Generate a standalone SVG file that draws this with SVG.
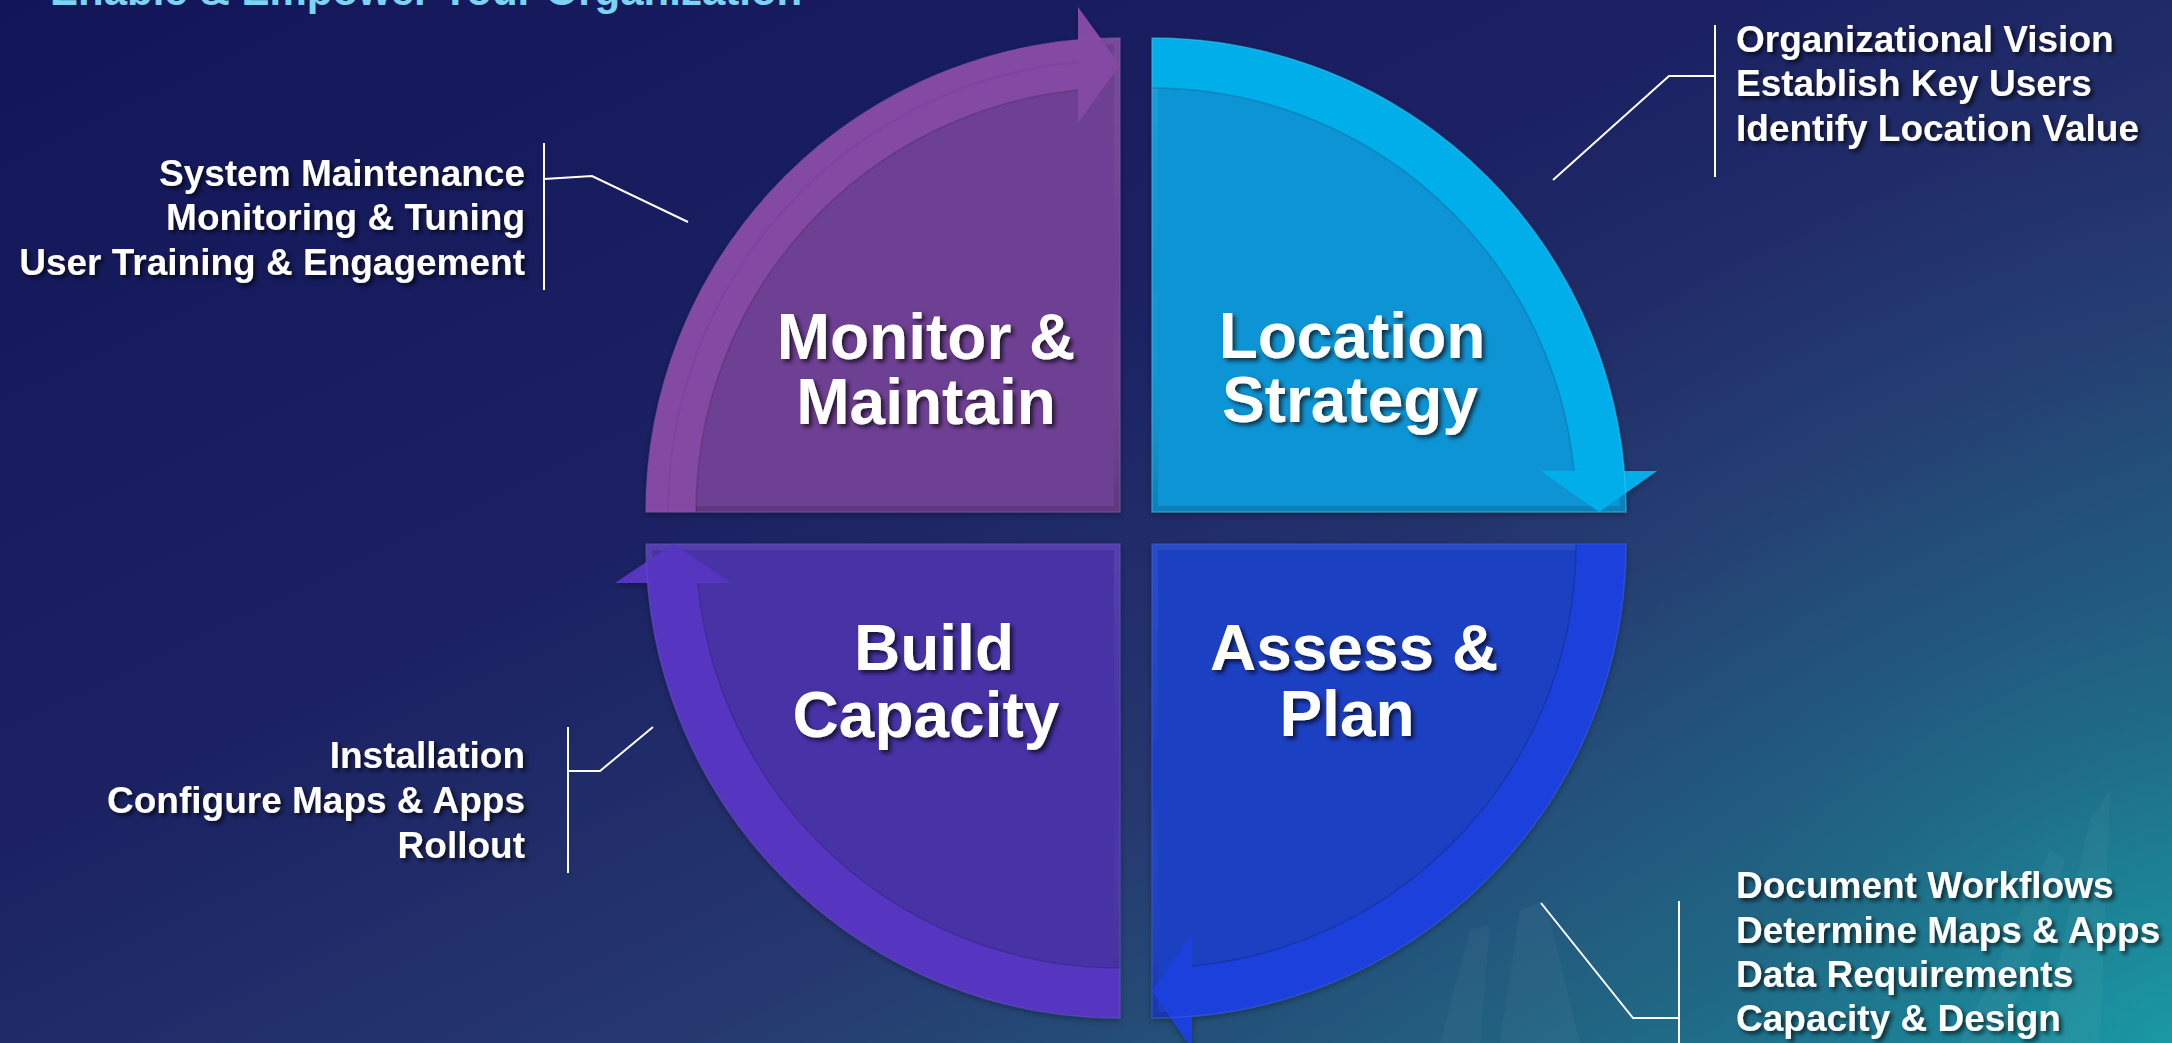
<svg xmlns="http://www.w3.org/2000/svg" width="2172" height="1043" viewBox="0 0 2172 1043">
  <defs>
    <linearGradient id="bg" x1="0" y1="0" x2="1" y2="1">
      <stop offset="0" stop-color="#121659"/>
      <stop offset="0.4" stop-color="#1b2163"/>
      <stop offset="0.65" stop-color="#26386f"/>
      <stop offset="0.85" stop-color="#22607f"/>
      <stop offset="1" stop-color="#1a8e9f"/>
    </linearGradient>
    <radialGradient id="glow" cx="2172" cy="1043" r="900" gradientUnits="userSpaceOnUse">
      <stop offset="0" stop-color="#1aa0a8" stop-opacity="0.6"/>
      <stop offset="0.5" stop-color="#1d6f8c" stop-opacity="0.3"/>
      <stop offset="1" stop-color="#1d6f8c" stop-opacity="0"/>
    </radialGradient>
    <linearGradient id="bevel" x1="0" y1="0" x2="0" y2="1">
      <stop offset="0" stop-color="#ffffff" stop-opacity="0.07"/>
      <stop offset="0.5" stop-color="#ffffff" stop-opacity="0.0"/>
      <stop offset="1" stop-color="#000000" stop-opacity="0.14"/>
    </linearGradient>
    <filter id="ts" x="-10%" y="-30%" width="130%" height="160%">
      <feDropShadow dx="3" dy="3" stdDeviation="2" flood-color="#000000" flood-opacity="0.65"/>
    </filter>
    <filter id="qs" x="-10%" y="-10%" width="120%" height="120%">
      <feDropShadow dx="0" dy="2" stdDeviation="3" flood-color="#000000" flood-opacity="0.35"/>
    </filter>
    <clipPath id="cTL"><path d="M1120 512 L646 512 A474 474 0 0 1 1120 38 Z"/></clipPath>
    <clipPath id="cTR"><path d="M1152 512 L1152 38 A474 474 0 0 1 1626 512 Z"/></clipPath>
    <clipPath id="cBL"><path d="M1120 544 L1120 1018 A474 474 0 0 1 646 544 Z"/></clipPath>
    <clipPath id="cBR"><path d="M1152 544 L1626 544 A474 474 0 0 1 1152 1018 Z"/></clipPath>
  </defs>
  <style>
    .title { font-family: "Liberation Sans", Arial, sans-serif; font-weight: bold; font-size: 64px; fill: #ffffff; text-anchor: middle; }
    .side { font-family: "Liberation Sans", Arial, sans-serif; font-weight: bold; font-size: 37px; fill: #ffffff; }
    .r { text-anchor: end; }
    .l { text-anchor: start; }
    .lead { fill: none; stroke: #ffffff; stroke-width: 2; }
    .bev { fill: none; stroke: url(#bevel); stroke-width: 12; }
    .edge { fill: none; stroke-width: 1.5; stroke-opacity: 0.5; }
    .inner { fill: none; stroke: #000000; stroke-opacity: 0.15; stroke-width: 1.5; }
  </style>

  <!-- background -->
  <rect x="0" y="0" width="2172" height="1043" fill="url(#bg)"/>
  <rect x="0" y="0" width="2172" height="1043" fill="url(#glow)"/>
  <g id="bg-deco" fill="#ffffff" fill-opacity="0.035">
    <polygon points="1500,1043 1520,910 1545,900 1580,1043"/>
    <polygon points="1440,1043 1470,930 1490,925 1480,1043"/>
    <polygon points="2040,1043 2090,820 2110,790 2100,1043"/>
    <polygon points="1960,1043 2050,850 2065,860 2000,1043"/>
  </g>

  <!-- page title (cropped at top edge, as in the picture) -->
  <text x="50" y="5" font-family="Liberation Sans, Arial, sans-serif" font-weight="bold" font-size="42" fill="#7dd3f2">Enable &amp; Empower Your Organization</text>

  <!-- Monitor & Maintain -->
  <g id="monitor" filter="url(#qs)">
    <path d="M1120 512 L646 512 A474 474 0 0 1 1120 38 Z" fill="#6e3f93"/>
    <path d="M1120 512 L646 512 A474 474 0 0 1 1120 38 Z" class="bev" clip-path="url(#cTL)"/>
    <path d="M646 512 A474 474 0 0 1 1078 39.9 L1078 7 L1120 65 L1078 123 L1078 90.1 A424 424 0 0 0 696 512 Z" fill="#8348a3"/>
    <path d="M668 512 A452 452 0 0 1 1078 61.9" fill="none" stroke="#7a43a0" stroke-width="2" stroke-opacity="0.6"/>
    <path d="M1078 90.1 A424 424 0 0 0 696 512" class="inner"/>
    <path d="M1120 512 L646 512 A474 474 0 0 1 1120 38 Z" class="edge" stroke="#8a55b0"/>
    <text class="title" x="926" y="359" filter="url(#ts)">Monitor &amp;</text>
    <text class="title" x="926" y="424" filter="url(#ts)">Maintain</text>
  </g>

  <!-- Location Strategy -->
  <g id="location" filter="url(#qs)">
    <path d="M1152 512 L1152 38 A474 474 0 0 1 1626 512 Z" fill="#0f94d4"/>
    <path d="M1152 512 L1152 38 A474 474 0 0 1 1626 512 Z" class="bev" clip-path="url(#cTR)"/>
    <path d="M1152 38 A474 474 0 0 1 1624.2 471 L1657 471 L1599 512 L1541 471 L1574 471 A424 424 0 0 0 1152 88 Z" fill="#05aeea"/>
    <path d="M1574 471 A424 424 0 0 0 1152 88" class="inner"/>
    <path d="M1152 512 L1152 38 A474 474 0 0 1 1626 512 Z" class="edge" stroke="#3cc4f0"/>
    <text class="title" x="1352" y="358" filter="url(#ts)">Location</text>
    <text class="title" x="1350" y="422" filter="url(#ts)">Strategy</text>
  </g>

  <!-- Build Capacity -->
  <g id="build" filter="url(#qs)">
    <path d="M1120 544 L1120 1018 A474 474 0 0 1 646 544 Z" fill="#4632a6"/>
    <path d="M1120 544 L1120 1018 A474 474 0 0 1 646 544 Z" class="bev" clip-path="url(#cBL)"/>
    <path d="M1120 1018 A474 474 0 0 1 647.6 583 L615 583 L673 544 L731 583 L697.8 583 A424 424 0 0 0 1120 968 Z" fill="#5636c0"/>
    <path d="M697.8 583 A424 424 0 0 0 1120 968" class="inner"/>
    <path d="M1120 544 L1120 1018 A474 474 0 0 1 646 544 Z" class="edge" stroke="#6a4fcc"/>
    <text class="title" x="934" y="670" filter="url(#ts)">Build</text>
    <text class="title" x="926" y="737" filter="url(#ts)">Capacity</text>
  </g>

  <!-- Assess & Plan -->
  <g id="assess" filter="url(#qs)">
    <path d="M1152 544 L1626 544 A474 474 0 0 1 1152 1018 Z" fill="#1d3fc2"/>
    <path d="M1152 544 L1626 544 A474 474 0 0 1 1152 1018 Z" class="bev" clip-path="url(#cBR)"/>
    <path d="M1626 544 A474 474 0 0 1 1192 1016.3 L1192 1049 L1152 991 L1192 933 L1192 966.1 A424 424 0 0 0 1576 544 Z" fill="#1b40dc"/>
    <path d="M1192 966.1 A424 424 0 0 0 1576 544" class="inner"/>
    <path d="M1152 544 L1626 544 A474 474 0 0 1 1152 1018 Z" class="edge" stroke="#3d5fe0"/>
    <text class="title" x="1354" y="670" filter="url(#ts)">Assess &amp;</text>
    <text class="title" x="1347" y="736" filter="url(#ts)">Plan</text>
  </g>

  <!-- connectors (leader lines) -->
  <g id="connectors">
    <polyline class="lead" points="1553,180 1669,76 1715,76"/>
    <line class="lead" x1="1715" y1="25" x2="1715" y2="177"/>
    <polyline class="lead" points="688,222 592,176 544,179"/>
    <line class="lead" x1="544" y1="143" x2="544" y2="290"/>
    <polyline class="lead" points="653,727 600,771 568,771"/>
    <line class="lead" x1="568" y1="727" x2="568" y2="873"/>
    <polyline class="lead" points="1541,903 1633,1018 1679,1018"/>
    <line class="lead" x1="1679" y1="901" x2="1679" y2="1043"/>
  </g>

  <!-- callout texts -->
  <g id="notes-location" filter="url(#ts)">
    <text class="side l" x="1736" y="52">Organizational Vision</text>
    <text class="side l" x="1736" y="96">Establish Key Users</text>
    <text class="side l" x="1736" y="141">Identify Location Value</text>
  </g>
  <g id="notes-monitor" filter="url(#ts)">
    <text class="side r" x="525" y="186">System Maintenance</text>
    <text class="side r" x="525" y="230">Monitoring &amp; Tuning</text>
    <text class="side r" x="525" y="275">User Training &amp; Engagement</text>
  </g>
  <g id="notes-build" filter="url(#ts)">
    <text class="side r" x="525" y="768">Installation</text>
    <text class="side r" x="525" y="813">Configure Maps &amp; Apps</text>
    <text class="side r" x="525" y="858">Rollout</text>
  </g>
  <g id="notes-assess" filter="url(#ts)">
    <text class="side l" x="1736" y="898">Document Workflows</text>
    <text class="side l" x="1736" y="943">Determine Maps &amp; Apps</text>
    <text class="side l" x="1736" y="987">Data Requirements</text>
    <text class="side l" x="1736" y="1031">Capacity &amp; Design</text>
  </g>
</svg>
